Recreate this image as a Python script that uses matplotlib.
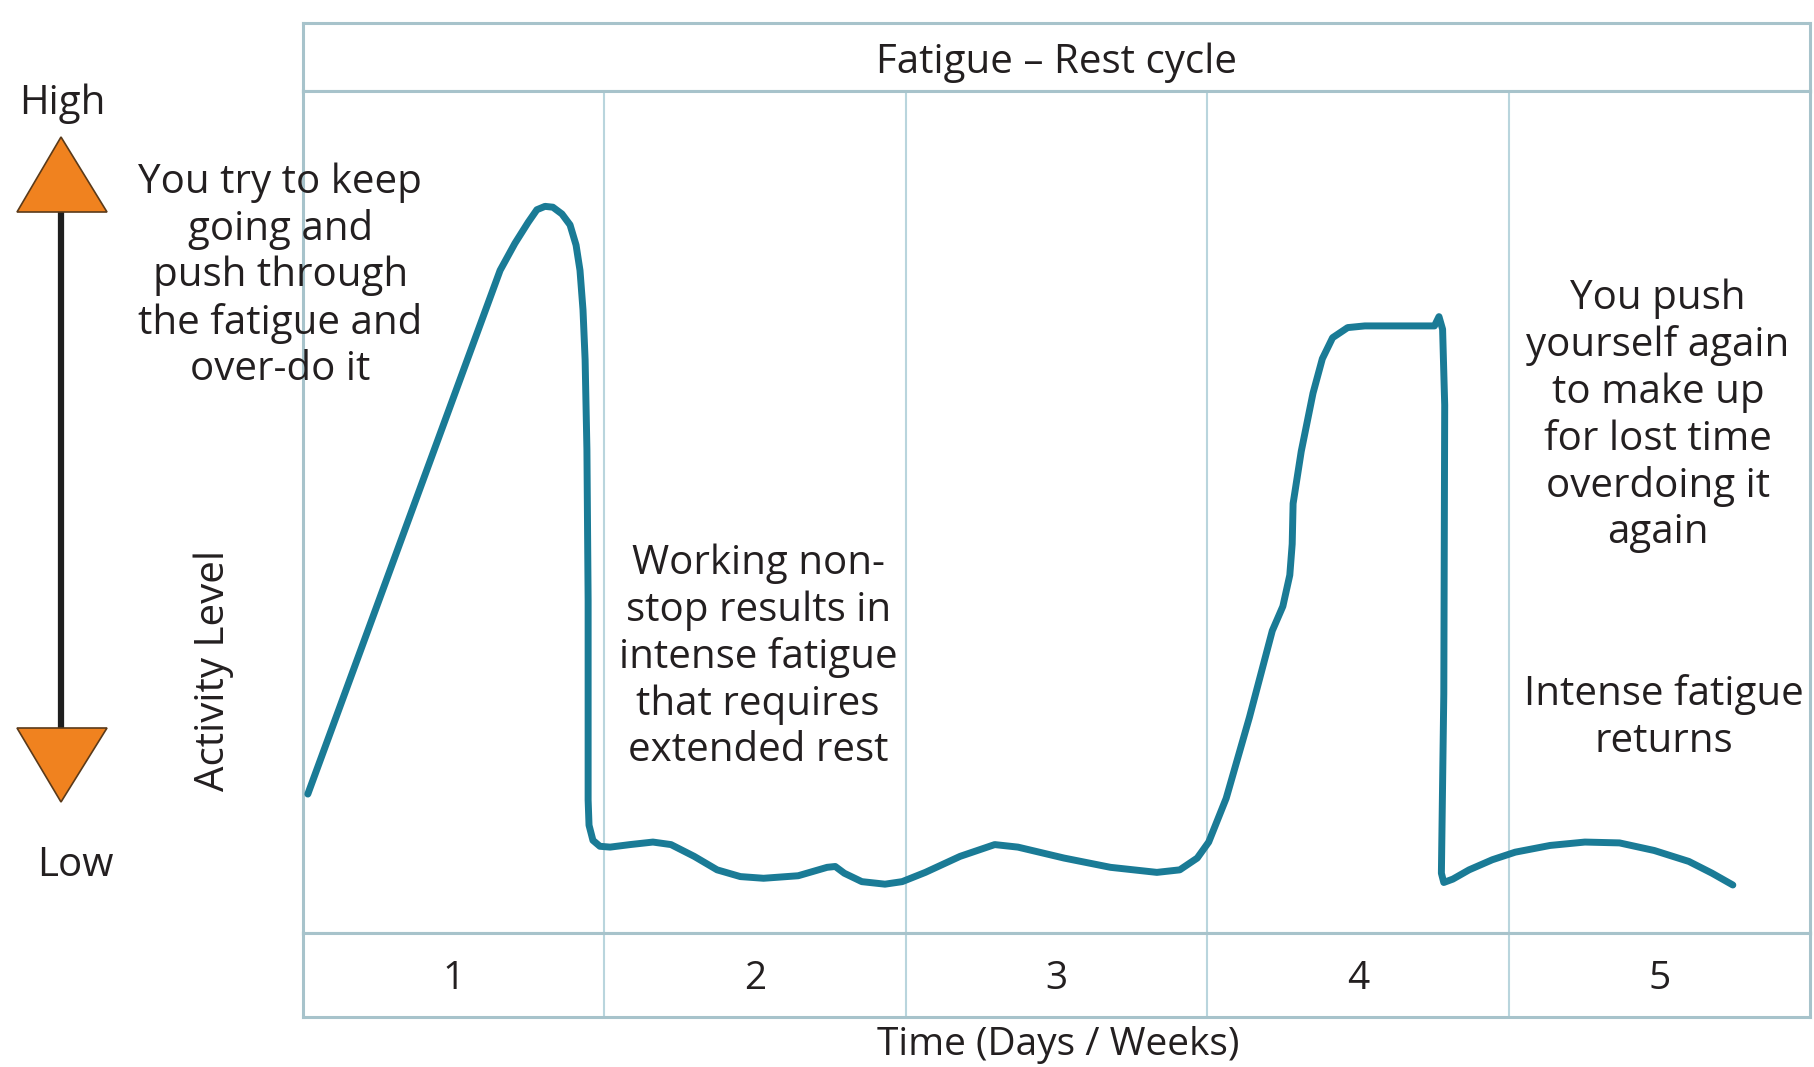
import matplotlib
matplotlib.use("Agg")
import matplotlib.pyplot as plt
from matplotlib.patches import Polygon

# ---------------- data ----------------
periods = ["1", "2", "3", "4", "5"]
period_pos = [1, 2, 3, 4, 5]
boundaries = [1.5, 2.5, 3.5, 4.5]

time_x = [0.516, 1.154, 1.203, 1.247, 1.276, 1.303, 1.329, 1.359, 1.386, 1.406,
          1.419, 1.429, 1.436, 1.442, 1.446, 1.446, 1.449, 1.462, 1.485, 1.519,
          1.585, 1.661, 1.721, 1.798, 1.874, 1.951, 2.028, 2.143, 2.239, 2.266,
          2.296, 2.354, 2.431, 2.488, 2.565, 2.680, 2.795, 2.872, 3.025, 3.179,
          3.333, 3.409, 3.467, 3.505, 3.563, 3.640, 3.716, 3.751, 3.774, 3.782,
          3.785, 3.812, 3.851, 3.882, 3.916, 3.966, 4.023, 4.254, 4.269, 4.281,
          4.288, 4.285, 4.277, 4.285, 4.315, 4.369, 4.446, 4.522, 4.638, 4.753,
          4.868, 4.983, 5.098, 5.175, 5.244]
activity = [16.5, 78.7, 81.9, 84.4, 85.9, 86.3, 86.2, 85.4, 84.1, 81.7,
            78.7, 74.0, 68.1, 57.4, 39.5, 15.8, 12.8, 11.0, 10.3, 10.2,
            10.5, 10.8, 10.5, 9.1, 7.5, 6.7, 6.5, 6.8, 7.8, 7.9,
            7.1, 6.1, 5.8, 6.1, 7.2, 9.1, 10.5, 10.2, 8.9, 7.8,
            7.2, 7.5, 8.9, 10.8, 16.0, 25.6, 35.9, 38.8, 42.5, 46.2,
            51.0, 57.2, 64.1, 68.2, 70.7, 71.9, 72.1, 72.1, 73.2, 71.7,
            62.7, 28.4, 7.1, 6.0, 6.4, 7.5, 8.7, 9.6, 10.4, 10.8,
            10.7, 9.8, 8.5, 7.1, 5.7]

title = "Fatigue \u2013 Rest cycle"
xlabel = "Time (Days / Weeks)"
ylabel = "Activity Level"
notes = [
    (0.424, 78.0, "You try to keep\ngoing and\npush through\nthe fatigue and\nover-do it"),
    (2.01, 32.7, "Working non-\nstop results in\nintense fatigue\nthat requires\nextended rest"),
    (4.996, 61.4, "You push\nyourself again\nto make up\nfor lost time\noverdoing it\nagain"),
    (5.016, 25.5, "Intense fatigue\nreturns"),
]

# ---------------- style ----------------
plt.rcParams['font.family'] = ['Open Sans', 'DejaVu Sans']
TXT = '#231f20'
LINE = '#1a7b96'
BORDER = '#a7c3cb'
DIV = '#b9d5dd'
FS = 29

W, H = 1814, 1067
fig = plt.figure(figsize=(W / 100, H / 100), dpi=100)

def fpos(x0, y0, x1, y1):
    return [x0 / W, 1 - y1 / H, (x1 - x0) / W, (y1 - y0) / H]

L, R = 303, 1810
Y_TOP, Y_TITLE, Y_PLOT, Y_BOT = 23, 91, 933, 1017

ax_title = fig.add_axes(fpos(L, Y_TOP, R, Y_TITLE))
ax = fig.add_axes(fpos(L, Y_TITLE, R, Y_PLOT))
ax_num = fig.add_axes(fpos(L, Y_PLOT, R, Y_BOT))

for a in (ax_title, ax, ax_num):
    a.set_xlim(0.5, 5.5)
    a.set_xticks([])
    a.set_yticks([])
    for s in a.spines.values():
        s.set_color(BORDER)
        s.set_linewidth(2.2)

ax.set_ylim(0, 100)
ax_title.set_ylim(0, 1)
ax_num.set_ylim(0, 1)

for b in boundaries:
    ax.axvline(b, color=DIV, lw=1.5, zorder=1)
    ax_num.axvline(b, color=DIV, lw=1.5, zorder=1)

ax_title.text(3.0, 0.42, title, ha='center', va='center', fontsize=FS, color=TXT)
for p, lab in zip(period_pos, periods):
    ax_num.text(p, 0.45, lab, ha='center', va='center', fontsize=28, color=TXT)

ax.plot(time_x, activity, color=LINE, lw=5, solid_joinstyle='round',
        solid_capstyle='round', zorder=3)

for x, y, t in notes:
    ax.text(x, y, t, ha='center', va='center', fontsize=FS, color=TXT,
            linespacing=1.2, clip_on=False, zorder=4)

# ---------------- left side guide (pixel coordinates overlay) ----------------
ov = fig.add_axes([0, 0, 1, 1], zorder=-1)
ov.set_xlim(0, W)
ov.set_ylim(H, 0)
ov.axis('off')

ov.plot([61, 61], [205, 735], color='#1e1e1e', lw=4.5, zorder=1)
ov.add_patch(Polygon([[61, 137], [17, 212], [107, 212]], closed=True,
                     facecolor='#f0821f', edgecolor='#5a3a1a', lw=1.2, zorder=2))
ov.add_patch(Polygon([[17, 728], [107, 728], [61, 802]], closed=True,
                     facecolor='#f0821f', edgecolor='#5a3a1a', lw=1.2, zorder=2))
ov.text(62, 104, "High", ha='center', va='center', fontsize=FS, color=TXT)
ov.text(75, 866, "Low", ha='center', va='center', fontsize=FS, color=TXT)
ov.text(214, 670, ylabel, ha='center', va='center', rotation=90, fontsize=FS, color=TXT)
ov.text(1058, 1064, xlabel, ha='center', va='bottom', fontsize=28, color=TXT)

fig.savefig("out.png", dpi=100, facecolor='white')
